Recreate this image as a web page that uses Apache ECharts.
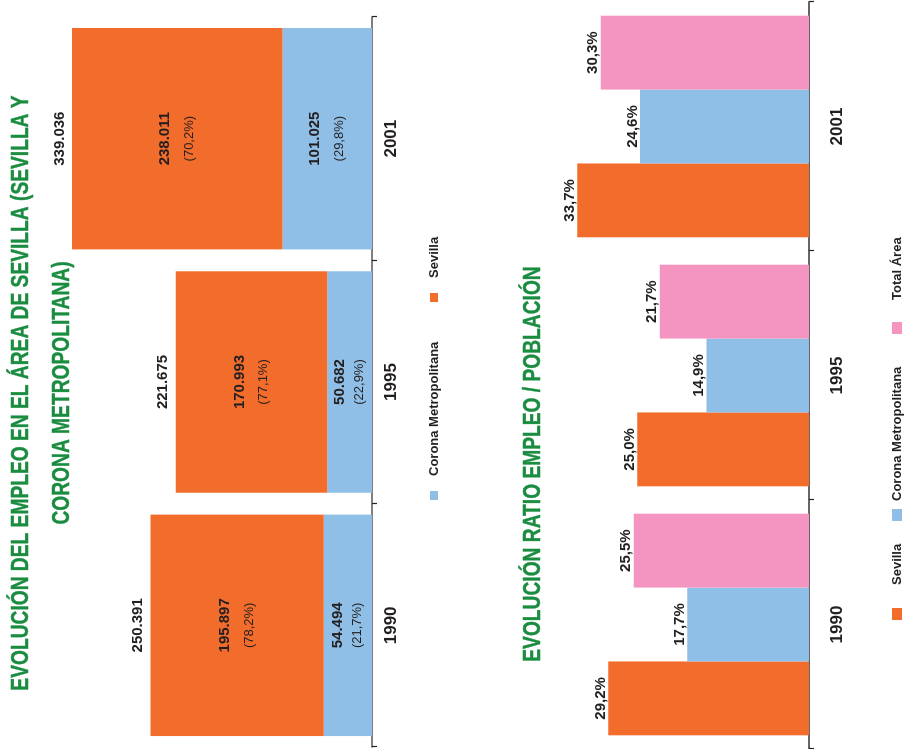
<!DOCTYPE html>
<html>
<head>
<meta charset="utf-8">
<script src="https://cdn.jsdelivr.net/npm/echarts@6/dist/echarts.min.js"></script>
<style>
  html, body { margin: 0; padding: 0; width: 904px; height: 749px; overflow: hidden; background: #fff; }
  /* the page is laid out portrait and turned a quarter turn to landscape */
  #page { position: absolute; left: 0; top: 0; width: 749px; height: 904px;
          transform-origin: 0 0; transform: translate(0, 749px) rotate(-90deg); }
</style>
</head>
<body>
<div id="page"></div>
<script>
// Employment in the Seville area, by year
const years = ['1990', '1995', '2001'];
const empSevilla = [195897, 170993, 238011];
const empCorona = [54494, 50682, 101025];
const shareSevilla = [78.2, 77.1, 70.2];
const shareCorona = [21.7, 22.9, 29.8];

// Employment / population ratio (%)
const ratioSevilla = [29.2, 25.0, 33.7];
const ratioCorona = [17.7, 14.9, 24.6];
const ratioTotal = [25.5, 21.7, 30.3];

const C_SEV = '#F26C2C';
const C_COR = '#8FBEE6';
const C_TOT = '#F494C0';
const GREEN = '#1A8C40';
const INK = '#231F20';
const FONT = '"Liberation Sans", Arial, Helvetica, sans-serif';

function thousands(n) { return String(n).replace(/\B(?=(\d{3})+(?!\d))/g, '.'); }
function dec(v) { return v.toFixed(1).replace('.', ','); }

const totals = years.map((_, i) => empSevilla[i] + empCorona[i]);

// stacked segment label: absolute figure and share, two lines
function segmentData(values, shares) {
  return values.map((v, i) => {
    const lh = Math.min(24, Math.round(v / 2700));
    return {
      value: v,
      label: {
        formatter: '{v|' + thousands(v) + '}\n{p|(' + dec(shares[i]) + '%)}',
        rich: {
          v: { fontFamily: FONT, fontSize: 15, fontWeight: 'bold', color: INK, lineHeight: lh },
          p: { fontFamily: FONT, fontSize: 13, color: INK, lineHeight: lh }
        }
      }
    };
  });
}

function catAxis(gridIndex, margin, lineColor) {
  return {
    type: 'category', gridIndex: gridIndex, data: years,
    axisLine: { lineStyle: { color: lineColor, width: 1.6 } },
    axisTick: { show: true, length: 5, lineStyle: { color: '#222', width: 1.2 } },
    axisLabel: { fontFamily: FONT, fontSize: 17, fontWeight: 'bold', color: INK, margin: margin },
    splitLine: { show: false }
  };
}

function ratioSeries(name, color, values) {
  return {
    name: name, type: 'bar', xAxisIndex: 1, yAxisIndex: 1,
    data: values, barGap: '0%', barCategoryGap: '11%',
    itemStyle: { color: color },
    label: {
      show: true, position: 'top', distance: 0,
      fontFamily: FONT, fontSize: 15, fontWeight: 'bold', color: INK,
      formatter: p => dec(p.value) + '%'
    }
  };
}

function legendItem(name, left, top, w, h, gap) {
  return {
    data: [name], left: left, top: top, orient: 'horizontal',
    icon: 'rect', itemWidth: w, itemHeight: h, selectedMode: false,
    textStyle: { fontFamily: FONT, fontSize: 13, fontWeight: 'bold', color: INK,
                 lineHeight: 14, padding: [0, 0, 0, gap - 5] }
  };
}

function titleText(text, x, y) {
  return {
    type: 'text', x: x, y: y, scaleX: 0.8,
    style: { text: text, x: 0, y: 0, align: 'center', verticalAlign: 'middle',
             font: 'bold 24px ' + FONT, fill: GREEN, stroke: GREEN, lineWidth: 0.4 }
  };
}

const chart = echarts.init(document.getElementById('page'));
chart.setOption({
  animation: false,
  backgroundColor: '#ffffff',
  color: [C_SEV, C_COR, C_TOT],
  graphic: [
    titleText('EVOLUCIÓN DEL EMPLEO EN EL ÁREA DE SEVILLA (SEVILLA Y', 356, 21),
    titleText('CORONA METROPOLITANA)', 356, 62),
    titleText('EVOLUCIÓN RATIO EMPLEO / POBLACIÓN', 285, 533)
  ],
  legend: [
    legendItem('Corona Metropolitana', 244, 422, 9, 8, 15),
    legendItem('Sevilla', 442, 422, 9, 8, 15),
    legendItem('Sevilla', 124, 885, 12, 10, 23),
    legendItem('Corona Metropolitana', 223, 885, 12, 10, 8),
    legendItem('Total Área', 410, 885, 12, 10, 22)
  ],
  grid: [
    { left: 2, width: 730, top: 18, height: 354 },
    { left: 0, width: 747, top: 534, height: 275 }
  ],
  xAxis: [catAxis(0, 11, '#555'), catAxis(1, 20, '#333')],
  yAxis: [
    { type: 'value', gridIndex: 0, min: 0, max: 400000, show: false },
    { type: 'value', gridIndex: 1, min: 0, max: 40, show: false }
  ],
  series: [
    {
      name: 'Corona Metropolitana', type: 'bar', stack: 'empleo',
      xAxisIndex: 0, yAxisIndex: 0,
      itemStyle: { color: C_COR },
      label: { show: true, position: 'inside' },
      data: segmentData(empCorona, shareCorona)
    },
    {
      name: 'Sevilla', type: 'bar', stack: 'empleo',
      xAxisIndex: 0, yAxisIndex: 0,
      itemStyle: { color: C_SEV },
      label: { show: true, position: 'inside' },
      data: segmentData(empSevilla, shareSevilla)
    },
    {
      // unfilled outline of the whole stack, carrying the total above it
      name: 'Total empleo', type: 'bar', xAxisIndex: 0, yAxisIndex: 0,
      barGap: '-100%', barCategoryGap: '9%', z: 3,
      itemStyle: { color: 'rgba(255,255,255,0)' },
      label: {
        show: true, position: 'top', distance: 5,
        fontFamily: FONT, fontSize: 15, fontWeight: 'bold', color: INK,
        formatter: p => thousands(p.value)
      },
      data: totals
    },
    ratioSeries('Sevilla', C_SEV, ratioSevilla),
    ratioSeries('Corona Metropolitana', C_COR, ratioCorona),
    ratioSeries('Total Área', C_TOT, ratioTotal)
  ]
});
</script>
</body>
</html>
